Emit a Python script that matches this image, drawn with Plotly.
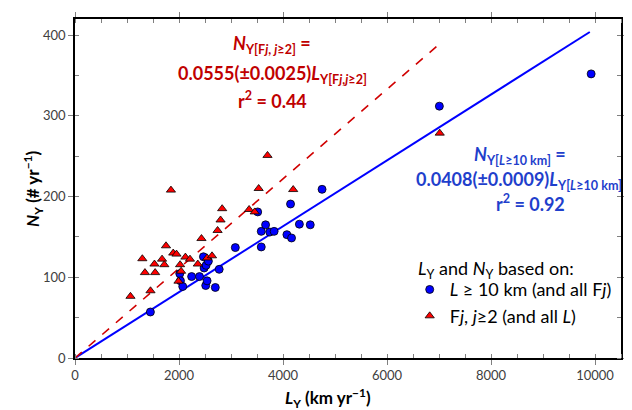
import plotly.graph_objects as go

# Blue circles: L >= 10 km (and all Fj)
blue_x = [1450, 2015, 2028, 2072, 2243, 2394, 2470, 2483, 2514, 2521, 2540, 2565, 2698, 2773,
          3083, 3513, 3582, 3582, 3665, 3746, 3829, 4075, 4145, 4164, 4315, 4524, 4751, 7007, 9926]
blue_y = [57, 104.5, 95.6, 88.6, 100.9, 100.9, 125.4, 111.5, 89.8, 114.8, 95.6, 120, 87.4, 109.9,
          136.8, 181, 156.9, 137.6, 165, 156, 156.9, 152.8, 190.8, 148.7, 165.8, 165, 209, 312, 352]

# Red triangles: Fj, j>=2 (and all L)
red_x = [1067, 1295, 1345, 1452, 1528, 1541, 1674, 1718, 1750, 1845, 1889, 1952, 1990, 2021, 2040,
         2123, 2211, 2362, 2432, 2540, 2635, 2742, 2799, 2830, 3348, 3456, 3532, 3702, 4196, 7014]
red_y = [76.4, 123, 105.8, 83.3, 116.4, 105.8, 122.5, 115.6, 139, 208, 130, 128.7, 95.2, 115.6, 107.5,
         125, 122.5, 116.4, 148, 124, 126.6, 158, 171, 185, 184, 181, 210, 251, 208.7, 278.6]

# Regression fits
blue_slope = 0.0408
red_slope = 0.0555
blue_fit_x = [0, 9900]
red_fit_x = [0, 7060]

x_ticks = [0, 2000, 4000, 6000, 8000, 10000]
x_labels = ["0", "2000", "4000", "6000", "8000", "10000"]
y_ticks = [0, 100, 200, 300, 400]

FONT = "Lato"
RED_TXT = "#C00000"
BLUE_TXT = "#1F3FCC"

fig = go.Figure()
fig.add_trace(go.Scatter(x=blue_fit_x, y=[blue_slope * v for v in blue_fit_x], mode="lines",
                         line=dict(color="#0000FF", width=2), showlegend=False, hoverinfo="skip"))
fig.add_trace(go.Scatter(x=red_fit_x, y=[red_slope * v for v in red_fit_x], mode="lines",
                         line=dict(color="#D00000", width=1.6, dash="dash"), showlegend=False,
                         hoverinfo="skip"))
fig.add_trace(go.Scatter(x=blue_x, y=blue_y, mode="markers",
                         name="<i>L</i> ≥ 10 km (and all F<i>j</i>)",
                         marker=dict(symbol="circle", size=8, color="#0000FF",
                                     line=dict(color="#000000", width=0.8))))
fig.add_trace(go.Scatter(x=red_x, y=red_y, mode="markers",
                         name="F<i>j</i>, <i>j</i>≥2 (and all <i>L</i>)",
                         marker=dict(symbol="triangle-up", size=8, color="#FF0000",
                                     line=dict(color="#000000", width=0.8))))

axis_common = dict(showgrid=False, zeroline=False, showline=True, linecolor="#000000", linewidth=1.5,
                   mirror="allticks", ticks="outside", ticklen=5, tickcolor="#808080", tickwidth=1,
                   tickfont=dict(family=FONT, size=13, color="#404040"))

fig.update_xaxes(range=[0, 10500], tickvals=x_ticks, ticktext=x_labels, **axis_common,
                 minor=dict(dtick=500, ticks="inside", ticklen=4, tickcolor="#808080"))
fig.update_yaxes(range=[0, 420], tickvals=y_ticks, **axis_common,
                 minor=dict(dtick=50, ticks="inside", ticklen=4, tickcolor="#808080"))

ann = []
def add(text, x, y, color, size, xanchor="center", xshift=0):
    ann.append(dict(text=text, x=x, y=y, xref="x", yref="y", showarrow=False, xanchor=xanchor,
                    yanchor="middle", xshift=xshift, font=dict(family=FONT, size=size, color=color)))

add("<b><i>N</i><sub>Y[F<i>j</i>, <i>j</i>≥2]</sub> =</b>", 3797, 389, RED_TXT, 18)
add("<b>0.0555(±0.0025)<i>L</i><sub>Y[F<i>j</i>,<i>j</i>≥2]</sub></b>", 3797, 351, RED_TXT, 18)
add("<b>r<sup>2</sup> = 0.44</b>", 3797, 320, RED_TXT, 18)
add("<b><i>N</i><sub>Y[<i>L</i>≥10 km]</sub> =</b>", 8557, 251.5, BLUE_TXT, 18)
add("<b>0.0408(±0.0009)<i>L</i><sub>Y[<i>L</i>≥10 km]</sub></b>", 10400, 220, BLUE_TXT, 18,
    "right", xshift=8)
add("<b>r<sup>2</sup> = 0.92</b>", 8750, 192, BLUE_TXT, 18)
add("<i>L</i><sub>Y</sub> and <i>N</i><sub>Y</sub> based on:", 6565, 110, "#000000", 18, "left")

ann.append(dict(text="<b><i>L</i><sub>Y</sub> (km yr<sup>−1</sup>)</b>", x=0.463, y=-0.074,
                xref="paper", yref="paper", showarrow=False, yanchor="top",
                font=dict(family=FONT, size=17, color="#000000")))
ann.append(dict(text="<b><i>N</i><sub>Y</sub> (# yr<sup>−1</sup>)</b>", x=-0.078, y=0.5,
                xref="paper", yref="paper", showarrow=False, textangle=-90, xanchor="center",
                font=dict(family=FONT, size=17, color="#000000")))

# Page body has an 8px default margin: the figure is sized to fill the rest of the window.
fig.update_layout(
    width=624, height=402,
    margin=dict(l=67, r=4, t=7, b=52),
    plot_bgcolor="#FFFFFF", paper_bgcolor="#FFFFFF",
    font=dict(family=FONT),
    annotations=ann,
    legend=dict(x=0.613, y=0.163, xanchor="left", yanchor="middle", bgcolor="rgba(0,0,0,0)",
                font=dict(family=FONT, size=18, color="#000000"), tracegroupgap=0,
                itemwidth=30),
)

fig.write_html("out.html")
